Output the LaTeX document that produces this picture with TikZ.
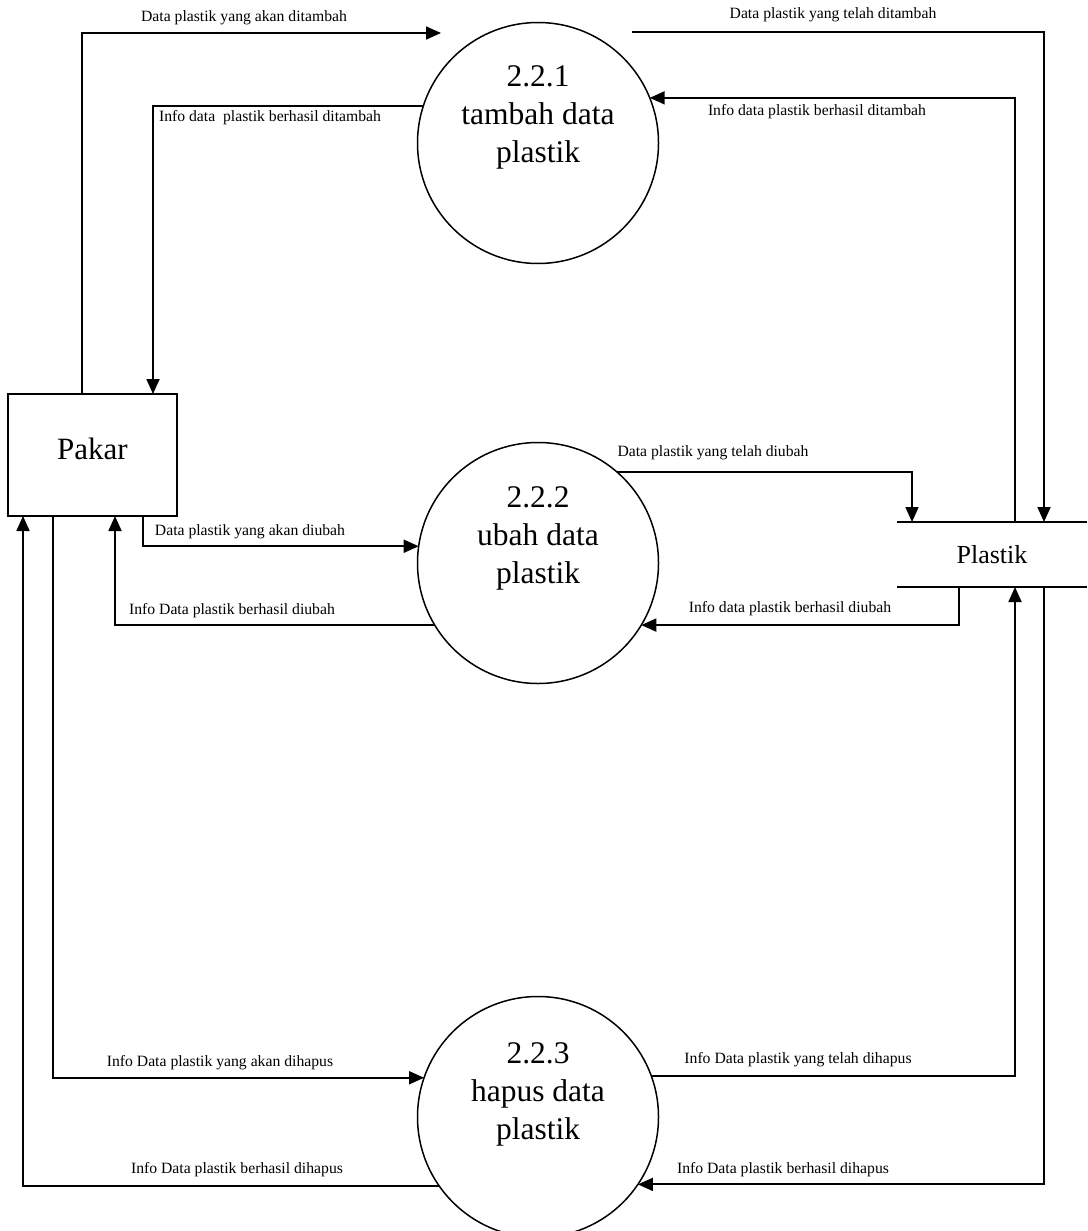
\documentclass[tikz,border=0pt]{standalone}
\usepackage{fontspec}
\setmainfont{Liberation Serif}
\usetikzlibrary{arrows.meta,calc}

\begin{document}
\begin{tikzpicture}[x=1pt,y=-1pt,
  flow/.style={line width=1.8pt,-{Triangle[length=15pt,width=13pt]}},
  plain/.style={line width=1.8pt},
  proc/.style={circle,draw,line width=1.5pt,minimum size=241pt,inner sep=0pt,outer sep=0pt},
  proctext/.style={align=center,font=\fontsize{31.5}{38}\selectfont},
  entity/.style={rectangle,draw,line width=1.8pt,minimum width=169pt,minimum height=122pt,inner sep=0pt,outer sep=0pt},
  entitytext/.style={font=\fontsize{31}{36}\selectfont},
  store/.style={rectangle,minimum width=190pt,minimum height=65pt,inner sep=0pt,outer sep=0pt,font=\fontsize{26}{30}\selectfont},
  lbl/.style={font=\fontsize{15.7}{18}\selectfont,inner sep=0pt}]

\useasboundingbox (0,0) rectangle (1087,1231);
\fill[white] (0,0) rectangle (1087,1231);

% external entity, processes and data store
\node[entity] (pakar) at (92.5,455) {};
\node[entitytext] (pakart) at (92.5,449) {Pakar};
\node[proc] (c1) at (538,143) {};
\node[proc] (c2) at (538,563) {};
\node[proc] (c3) at (538,1117) {};
\node[proctext] (c1t) at (538,117) {2.2.1\\tambah data\\plastik};
\node[proctext] (c2t) at (538,538) {2.2.2\\ubah data\\plastik};
\node[proctext] (c3t) at (538,1094) {2.2.3\\hapus data\\plastik};
\node[store] (store) at (992,554.5) {Plastik};
\draw[plain] (store.north west) -- (store.north east);
\draw[plain] (store.south west) -- (store.south east);

% free ends of the two top flows
\coordinate (in1) at (441,33);
\coordinate (out3) at (632,32);

% tambah
\draw[flow] ($(pakar.north west)+(74,0)$) |- (in1);
\draw[flow] (c1.162.5) -| ($(pakar.north west)+(145,0)$);
\draw[flow] (out3) -| ($(store.north east)+(-43,0)$);
\draw[flow] ($(store.north east)+(-72,0)$) |- (c1.22.5);

% ubah
\draw[flow] (c2.49.3) -| ($(store.north west)+(15,0)$);
\draw[flow] ($(store.south west)+(62,0)$) |- (c2.-31.7);
\draw[flow] ($(pakar.south west)+(135,0)$) |- (c2.172.3);
\draw[flow] (c2.211) -| ($(pakar.south west)+(107,0)$);

% hapus
\draw[flow] ($(pakar.south west)+(45,0)$) |- (c3.161);
\draw[flow] (c3.215.7) -| ($(pakar.south west)+(15,0)$);
\draw[flow] (c3.20) -| ($(store.south east)+(-72,0)$);
\draw[flow] ($(store.south east)+(-43,0)$) |- (c3.-34.5);

% flow labels
\node[lbl] (l1) at (244,18) {Data plastik yang akan ditambah};
\node[lbl] (l2) at (270,118) {Info data\ \ plastik berhasil ditambah};
\node[lbl] (l3) at (833,15) {Data plastik yang telah ditambah};
\node[lbl] (l4) at (817,112) {Info data plastik berhasil ditambah};
\node[lbl] (l5) at (713,453) {Data plastik yang telah diubah};
\node[lbl] (l6) at (790,609) {Info data plastik berhasil diubah};
\node[lbl] (l7) at (250,532) {Data plastik yang akan diubah};
\node[lbl] (l8) at (232,611) {Info Data plastik berhasil diubah};
\node[lbl] (l9) at (220,1063) {Info Data plastik yang akan dihapus};
\node[lbl] (l10) at (237,1170) {Info Data plastik berhasil dihapus};
\node[lbl] (l11) at (798,1060) {Info Data plastik yang telah dihapus};
\node[lbl] (l12) at (783,1170) {Info Data plastik berhasil dihapus};
\end{tikzpicture}
\end{document}
